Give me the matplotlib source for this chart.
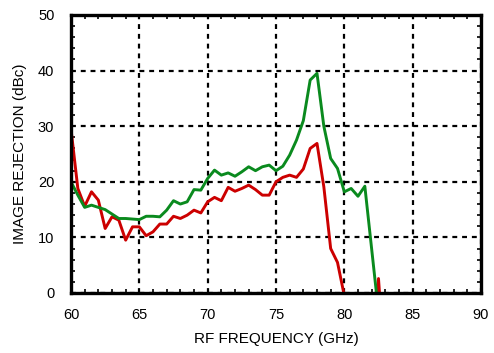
import matplotlib
matplotlib.use("Agg")
import matplotlib.pyplot as plt
from matplotlib.ticker import MultipleLocator

plt.rcParams['font.family'] = ['Liberation Sans', 'DejaVu Sans']

freq = [60 + 0.5 * i for i in range(47)]  # 60 .. 83 GHz

red = [29.5, 18.8, 15.6, 18.2, 16.7, 11.6, 13.7, 13.1, 9.5, 11.9,
       11.9, 10.3, 11.0, 12.4, 12.4, 13.8, 13.4, 14.0, 14.9, 14.4,
       16.4, 17.2, 16.6, 19.0, 18.3, 18.8, 19.4, 18.6, 17.6, 17.6,
       20.0, 20.8, 21.2, 20.8, 22.3, 26.0, 26.9, 19.1, 8.0, 5.5,
       -0.5, -8.0, -10.0, -12.0, -15.0, 2.6, -15.0]

green = [20.0, 17.6, 15.4, 15.8, 15.4, 15.0, 14.2, 13.4, 13.4, 13.3,
         13.2, 13.8, 13.8, 13.7, 14.9, 16.6, 16.0, 16.4, 18.6, 18.5,
         20.6, 22.1, 21.2, 21.6, 21.0, 21.8, 22.7, 22.0, 22.7, 23.0,
         22.0, 22.8, 24.8, 27.5, 31.0, 38.3, 39.5, 30.0, 24.2, 22.4,
         18.2, 18.8, 17.4, 19.2, 7.9, -3.4, -10.0]

fig = plt.figure(figsize=(4.94, 3.53), dpi=100)
ax = fig.add_axes([71/494, 1 - 293/353, 410/494, 278/353])

ax.plot(freq, red, color='#cc0000', lw=2.1, solid_joinstyle='round')
ax.plot(freq, green, color='#0a8a1e', lw=2.1, solid_joinstyle='round')

ax.set_xlim(60, 90)
ax.set_ylim(0, 50)
ax.xaxis.set_major_locator(MultipleLocator(5))
ax.yaxis.set_major_locator(MultipleLocator(10))
ax.xaxis.set_minor_locator(MultipleLocator(1))
ax.yaxis.set_minor_locator(MultipleLocator(2))

ax.grid(True, which='major', color='black', linestyle=(0, (2.2, 2.2)), linewidth=1.6)
for s in ax.spines.values():
    s.set_linewidth(2.4)

ax.tick_params(which='major', length=0, pad=11, labelsize=10.5)
ax.tick_params(axis='y', which='major', pad=12)
ax.tick_params(which='minor', direction='in', length=3, width=1.2,
               top=True, right=True)

ax.set_xlabel('RF FREQUENCY (GHz)', fontsize=11, labelpad=7)
ax.set_ylabel('IMAGE REJECTION (dBc)', fontsize=11, labelpad=8)

fig.savefig('out.png', dpi=100)
